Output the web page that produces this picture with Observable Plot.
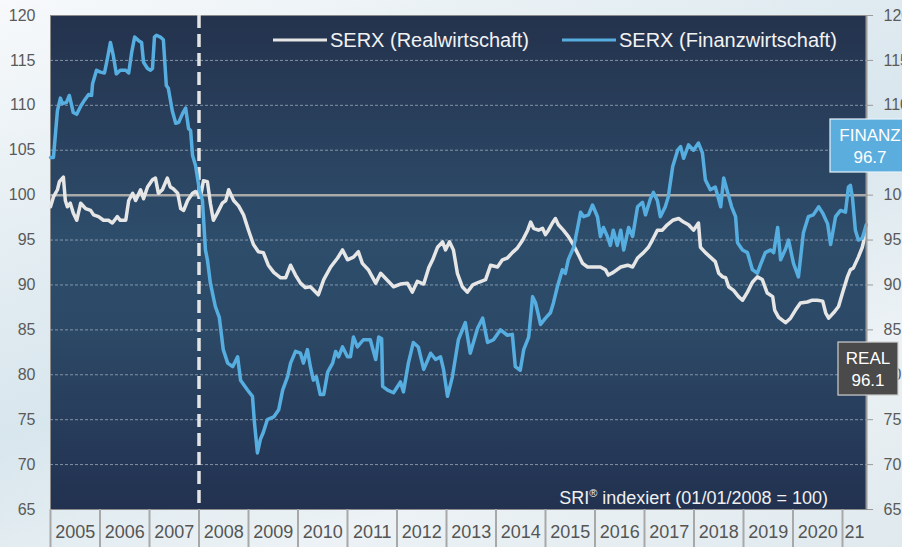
<!DOCTYPE html>
<html>
<head>
<meta charset="utf-8">
<script src="https://cdn.jsdelivr.net/npm/d3@7"></script>
<script src="https://cdn.jsdelivr.net/npm/@observablehq/plot@0.6"></script>
<style>
html, body { margin: 0; padding: 0; }
body {
  width: 902px; height: 547px; overflow: hidden;
  background: linear-gradient(160deg, #f7f9fb 0%, #e3edf2 30%, #d8e6ed 50%, #ecf2f5 75%, #dfe9ee 100%);
  font-family: "Liberation Sans", Arial, sans-serif;
}
#chart svg { display: block; }
</style>
</head>
<body>
<div id="chart"></div>
<script>
// ---- data ----
const realDates = [
2005.00,2005.06,2005.14,2005.18,2005.26,2005.30,2005.34,2005.40,2005.46,2005.53,
2005.61,2005.71,2005.81,2005.87,2005.97,2006.07,2006.17,2006.25,2006.35,2006.41,
2006.52,2006.58,2006.66,2006.72,2006.82,2006.88,2006.96,2007.06,2007.12,2007.18,
2007.26,2007.36,2007.42,2007.48,2007.57,2007.63,2007.69,2007.77,2007.87,2007.93,
2008.03,2008.09,2008.17,2008.23,2008.29,2008.37,2008.47,2008.54,2008.60,2008.70,
2008.80,2008.90,2009.00,2009.10,2009.20,2009.30,2009.40,2009.51,2009.65,2009.75,
2009.85,2009.95,2010.05,2010.15,2010.25,2010.41,2010.52,2010.66,2010.80,2010.90,
2011.00,2011.12,2011.22,2011.30,2011.42,2011.57,2011.67,2011.81,2011.93,2012.07,
2012.21,2012.31,2012.41,2012.54,2012.64,2012.72,2012.82,2012.92,2012.98,2013.06,
2013.14,2013.22,2013.32,2013.42,2013.53,2013.65,2013.79,2013.89,2014.03,2014.13,
2014.23,2014.33,2014.43,2014.54,2014.64,2014.70,2014.76,2014.86,2014.94,2015.00,
2015.06,2015.14,2015.20,2015.26,2015.36,2015.46,2015.57,2015.67,2015.75,2015.85,
2015.97,2016.11,2016.21,2016.27,2016.37,2016.52,2016.66,2016.76,2016.86,2016.98,
2017.08,2017.16,2017.26,2017.36,2017.46,2017.57,2017.69,2017.79,2017.89,2017.99,
2018.09,2018.13,2018.23,2018.33,2018.43,2018.50,2018.58,2018.64,2018.70,2018.80,
2018.90,2018.98,2019.08,2019.18,2019.28,2019.38,2019.48,2019.59,2019.63,2019.71,
2019.85,2019.95,2020.05,2020.15,2020.29,2020.39,2020.49,2020.60,2020.66,2020.72,
2020.82,2020.92,2021.00,2021.10,2021.16,2021.22,2021.32,2021.40,2021.48
];
const realValues = [
98.7,99.8,100.6,101.5,102.0,99.4,98.7,99.1,98.0,97.2,
99.1,98.5,98.3,97.8,97.6,97.2,97.2,96.9,97.6,97.2,
97.2,99.4,100.2,99.4,100.6,99.6,100.9,101.7,101.9,100.2,
100.6,101.9,100.9,100.7,100.2,98.5,98.3,99.4,100.2,100.4,
99.8,101.6,101.5,99.1,97.2,98.0,99.1,99.4,100.6,99.4,
98.8,97.8,96.1,94.5,93.7,93.6,92.2,91.4,90.8,90.8,
92.2,91.1,90.2,89.7,89.8,88.9,90.6,92.0,93.0,93.9,
92.8,93.1,93.7,92.4,91.7,90.2,91.3,90.5,89.8,90.1,
90.2,89.2,90.4,90.1,91.9,92.8,94.2,94.8,93.9,94.8,
93.9,91.3,89.8,89.2,90.0,90.3,90.6,92.2,92.0,92.8,
93.0,93.6,94.1,95.0,96.1,97.0,96.3,96.1,96.3,95.6,
96.1,96.9,97.4,96.7,96.1,95.4,94.4,93.3,92.4,92.0,
92.0,92.0,91.7,91.1,91.4,92.0,92.2,92.0,93.0,93.6,
94.2,95.0,96.1,96.1,96.7,97.2,97.4,97.0,96.7,96.1,
96.9,94.2,93.6,93.1,92.6,91.3,90.9,90.8,89.8,89.4,
88.7,88.3,89.2,90.3,90.9,90.6,89.1,88.7,87.2,86.4,
85.8,86.3,87.2,88.0,88.1,88.3,88.3,88.2,86.9,86.3,
86.9,87.6,89.1,90.9,91.7,91.9,93.1,94.2,96.1
];
const finDates = [
2005.00,2005.06,2005.14,2005.20,2005.24,2005.32,2005.38,2005.46,2005.53,2005.61,
2005.69,2005.77,2005.83,2005.85,2005.93,2006.01,2006.09,2006.15,2006.21,2006.27,
2006.33,2006.41,2006.52,2006.58,2006.64,2006.70,2006.78,2006.84,2006.88,2006.96,
2007.02,2007.06,2007.10,2007.14,2007.22,2007.28,2007.34,2007.38,2007.46,2007.53,
2007.59,2007.67,2007.73,2007.79,2007.83,2007.87,2007.93,2007.97,2008.01,2008.07,
2008.13,2008.17,2008.23,2008.33,2008.41,2008.49,2008.58,2008.68,2008.78,2008.84,
2008.98,2009.08,2009.12,2009.18,2009.24,2009.30,2009.38,2009.51,2009.61,2009.69,
2009.79,2009.85,2009.95,2010.05,2010.11,2010.19,2010.25,2010.31,2010.37,2010.45,
2010.52,2010.60,2010.70,2010.76,2010.82,2010.90,2011.00,2011.06,2011.12,2011.20,
2011.32,2011.46,2011.57,2011.63,2011.69,2011.71,2011.81,2011.93,2012.07,2012.13,
2012.23,2012.33,2012.43,2012.54,2012.68,2012.78,2012.88,2012.94,2013.02,2013.12,
2013.24,2013.38,2013.48,2013.63,2013.73,2013.83,2013.95,2014.09,2014.23,2014.33,
2014.39,2014.49,2014.56,2014.66,2014.74,2014.80,2014.90,2015.00,2015.10,2015.16,
2015.24,2015.34,2015.40,2015.46,2015.57,2015.65,2015.71,2015.77,2015.87,2015.95,
2016.05,2016.11,2016.17,2016.25,2016.31,2016.37,2016.45,2016.52,2016.58,2016.68,
2016.76,2016.86,2016.96,2017.02,2017.12,2017.18,2017.26,2017.32,2017.42,2017.48,
2017.57,2017.67,2017.73,2017.79,2017.89,2017.99,2018.09,2018.17,2018.23,2018.33,
2018.43,2018.54,2018.60,2018.68,2018.76,2018.84,2018.88,2018.98,2019.08,2019.18,
2019.28,2019.34,2019.44,2019.55,2019.61,2019.69,2019.75,2019.85,2019.91,2020.01,
2020.11,2020.21,2020.31,2020.41,2020.52,2020.60,2020.70,2020.76,2020.86,2020.96,
2021.06,2021.12,2021.16,2021.20,2021.26,2021.32,2021.40,2021.48
];
const finValues = [
104.2,104.2,109.4,110.8,110.2,110.3,111.1,109.2,109.0,109.9,
110.6,111.2,111.1,112.4,113.9,113.7,113.6,115.2,117.0,115.5,
113.5,113.9,113.9,113.6,115.9,117.6,117.2,117.0,114.8,114.1,
113.9,114.1,117.6,117.8,117.6,117.3,112.2,111.9,109.4,108.0,
108.1,109.1,109.7,107.4,107.2,104.4,103.3,101.9,100.5,99.4,
93.9,92.8,90.2,87.6,86.4,82.8,81.3,80.9,82.0,79.4,
78.3,77.6,74.7,71.3,72.8,73.6,75.0,75.3,76.1,78.3,
79.8,81.3,82.6,82.4,81.3,82.8,80.9,79.4,79.8,77.8,
77.8,80.3,81.3,82.6,82.0,83.1,82.0,82.0,84.2,83.1,
83.9,83.9,81.7,84.2,84.0,78.7,78.3,78.0,79.2,78.1,
81.3,83.6,83.1,80.6,82.4,81.7,82.0,80.6,77.6,79.8,
83.9,85.8,82.4,85.2,86.3,83.6,83.9,85.0,84.4,84.5,
80.9,80.5,82.8,84.2,88.7,88.0,85.6,86.3,86.9,88.0,
89.8,91.7,91.3,92.8,94.2,96.4,98.1,97.6,97.8,98.9,
97.6,95.4,96.4,95.4,94.4,96.1,94.4,96.1,93.9,96.4,
95.4,98.7,99.2,97.8,99.6,100.3,99.4,97.6,98.7,99.8,
103.2,105.0,105.4,104.1,105.6,105.0,105.8,104.7,101.7,100.6,
100.9,98.7,101.9,100.3,98.7,97.6,94.7,93.9,93.6,91.7,
91.3,92.2,93.6,93.9,93.6,96.4,92.8,94.0,95.0,92.4,
90.9,95.8,97.6,97.8,98.7,98.0,96.8,94.5,97.6,98.3,
98.1,100.9,101.1,99.8,96.1,95.0,95.2,96.7
];
const yTicks = [65,70,75,80,85,90,95,100,105,110,115,120];
const gridValues = [70,75,80,85,90,95,105,110,115];
const baseValue = 100;
const baseDate = 2008;
const yearBounds = [2005,2006,2007,2008,2009,2010,2011,2012,2013,2014,2015,2016,2017,2018,2019,2020,2021];
const yearLabels = ["2005","2006","2007","2008","2009","2010","2011","2012","2013","2014","2015","2016","2017","2018","2019","2020","21"];
const xEnd = 2021.485;
const seriesNames = ["SERX (Realwirtschaft)", "SERX (Finanzwirtschaft)"];
const seriesColors = ["#e6e6e6", "#56aee0"];
const tagNames = ["REAL", "FINANZ"];
const caption = ["SRI", "®", " indexiert (01/01/2008 = 100)"];

// ---- build ----
const real = realDates.map((d, i) => ({date: d, value: realValues[i]}));
const fin = finDates.map((d, i) => ({date: d, value: finValues[i]}));
const labelData = yearLabels.map((t, i) => ({
  label: t,
  pos: i < yearBounds.length - 1 ? yearBounds[i] + 0.5 : (yearBounds[i] + xEnd) / 2
}));

const plot = Plot.plot({
  width: 902, height: 547,
  marginLeft: 50, marginRight: 36, marginTop: 15, marginBottom: 38,
  style: {background: "transparent", fontFamily: "'Liberation Sans', Arial, sans-serif", overflow: "visible", color: "#5a5a5a"},
  x: {type: "linear", domain: [2005, xEnd], axis: null},
  y: {domain: [65, 120], axis: null},
  marks: [
    Plot.frame({fill: "url(#serxBg)", stroke: "#8a8a8a", strokeWidth: 1}),
    Plot.ruleY(gridValues, {stroke: "#a3b0bf", strokeWidth: 1, strokeDasharray: "3,2", strokeOpacity: 0.75}),
    Plot.ruleY([baseValue], {stroke: "#a9a9a9", strokeWidth: 2.5}),
    Plot.ruleX([baseDate], {stroke: "#e4e4e4", strokeWidth: 3.5, strokeDasharray: "13,6"}),
    Plot.line(real, {x: "date", y: "value", stroke: seriesColors[0], strokeWidth: 3.5, strokeLinejoin: "round"}),
    Plot.line(fin, {x: "date", y: "value", stroke: seriesColors[1], strokeWidth: 3.5, strokeLinejoin: "round"}),
    Plot.ruleX([xEnd], {stroke: "#9a9a9a", strokeWidth: 2}),
    Plot.axisY(yTicks, {anchor: "left", tickSize: 0, tickPadding: 15, fontSize: 16, color: "#5a5a5a", label: null}),
    Plot.axisY(yTicks, {anchor: "right", tickSize: 6, tickPadding: 11, fontSize: 16, color: "#5a5a5a", stroke: "#9a9a9a", label: null}),
    Plot.axisX(yearBounds, {anchor: "bottom", tickSize: 38, tickFormat: () => "", stroke: "#a8a8a8", strokeWidth: 2, label: null}),
    Plot.text(labelData, {x: "pos", text: "label", frameAnchor: "bottom", dy: 28, fontSize: 18, fill: "#555"})
  ]
});

document.getElementById("chart").appendChild(plot);

const svg = d3.select(plot);
const xs = plot.scale("x"), ys = plot.scale("y");
const defs = svg.insert("defs", ":first-child");
const grad = defs.append("linearGradient").attr("id", "serxBg").attr("x1", 0).attr("y1", 0).attr("x2", 0).attr("y2", 1);
[[0, "#24324d"], [0.45, "#2d4d6b"], [0.62, "#2c4a67"], [1, "#223150"]].forEach(([o, c]) =>
  grad.append("stop").attr("offset", o).attr("stop-color", c));

// legend
const lg = svg.append("g").attr("text-anchor", "start");
const legendX = [273, 562];
const legendW = [54, 54];
seriesNames.forEach((name, i) => {
  lg.append("line").attr("x1", legendX[i]).attr("x2", legendX[i] + legendW[i])
    .attr("y1", 40).attr("y2", 40).attr("stroke", seriesColors[i]).attr("stroke-width", 3);
  lg.append("text").attr("x", legendX[i] + legendW[i] + 3).attr("y", 40).attr("dy", "0.35em")
    .attr("text-anchor", "start")
    .attr("fill", "#f2f2f2").attr("font-size", 20).text(name);
});

// caption
const cap = svg.append("text").attr("x", xs.apply(xEnd) - 38).attr("y", ys.apply(65) - 5)
  .attr("text-anchor", "end").attr("fill", "#f0f0f0").attr("font-size", 18);
cap.append("tspan").text(caption[0]);
cap.append("tspan").attr("font-size", 11).attr("dy", -7).text(caption[1]);
cap.append("tspan").attr("dy", 7).text(caption[2]);

// end tags
function tag(cx, cy, w, h, fill, stroke, name, value) {
  const g = svg.append("g").attr("text-anchor", "middle");
  g.append("rect").attr("x", cx - w / 2).attr("y", cy - h / 2).attr("width", w).attr("height", h)
    .attr("fill", fill).attr("stroke", stroke).attr("stroke-width", 1.2);
  g.append("text").attr("x", cx).attr("y", cy - 10.5).attr("dy", "0.35em")
    .attr("fill", "#fff").attr("font-size", 17).text(name);
  g.append("text").attr("x", cx).attr("y", cy + 11.5).attr("dy", "0.35em")
    .attr("fill", "#fff").attr("font-size", 17).text(value.toFixed(1));
}
const xe = xs.apply(xEnd);
tag(xe + 4, ys.apply(105.47), 80, 53, "#5badde", "#e8f2f8", tagNames[1], finValues[finValues.length - 1]);
tag(xe + 2, ys.apply(80.64), 60, 53, "#4a4a4a", "#cfcfcf", tagNames[0], realValues[realValues.length - 1]);
</script>
</body>
</html>
